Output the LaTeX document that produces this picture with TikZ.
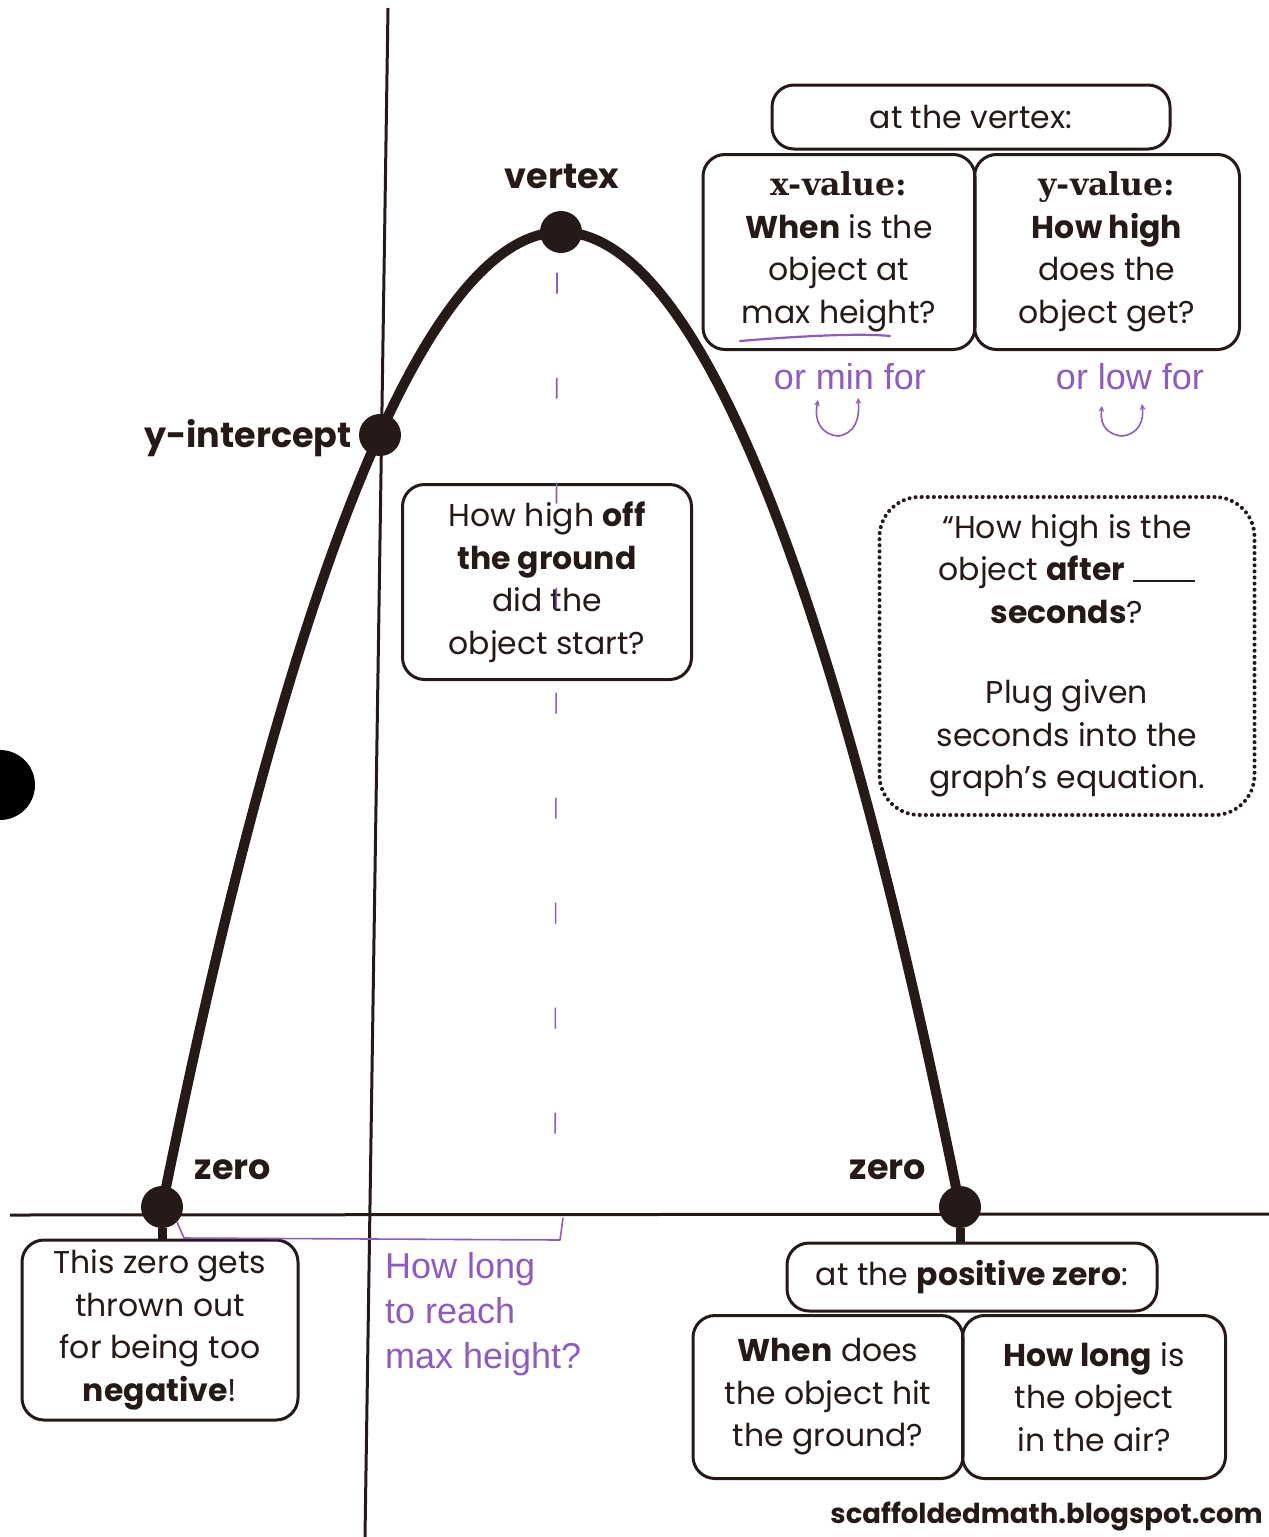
\documentclass[tikz,border=0pt]{standalone}
\usepackage{fontspec}
\setmainfont{Poppins}
\newfontfamily\slab{DejaVu Serif}
\newfontfamily\hand{Liberation Sans}
\definecolor{ink}{RGB}{38,26,24}
\definecolor{pen}{RGB}{140,92,196}
\begin{document}
\begin{tikzpicture}[x=1pt,y=-1pt,
  box/.style={draw=ink, line width=3pt, rounded corners=22pt, align=center,
    font=\fontsize{31.5}{42.5}\selectfont, inner sep=0pt, text=ink},
  dotbox/.style={box, line width=4pt, rounded corners=40pt, dash pattern=on 0.1pt off 6pt, line cap=round},
  pt/.style={circle, fill=ink, inner sep=0pt, minimum size=42pt},
  lbl/.style={font=\fontsize{35}{40}\selectfont\bfseries, text=ink, inner sep=0pt},
  handtxt/.style={font=\hand\fontsize{36}{45}\selectfont, text=pen, inner sep=0pt, align=left},
  axis/.style={draw=ink, line width=3pt},
  curve/.style={draw=ink, line width=10pt, line cap=round},
  stub/.style={draw=ink, line width=9pt},
  penline/.style={draw=pen, line width=1.6pt, line cap=round, line join=round}
]
\useasboundingbox (0,0) rectangle (1269,1537);
% hole punch
\fill[black] (0,785) circle (35);
% axes
\coordinate (ytop) at (388,8);
\coordinate (ybot) at (365,1537);
\coordinate (xl) at (10,1215);
\coordinate (xr) at (1269,1214);
\draw[axis] (ytop) -- (ybot);
\draw[axis] (xl) -- (xr);
% parabola
\coordinate (zl) at (162,1207);
\coordinate (vx) at (561,232);
\coordinate (zr) at (960,1207);
\draw[curve] (zl) parabola bend (vx) (zr);
% points
\node[pt] (V) at (vx) {};
\node[pt] (Y) at (380,435) {};
\node[pt] (ZL) at (zl) {};
\node[pt] (ZR) at (zr) {};
% labels
\node[lbl] (vlab) at (562,176) {vertex};
\node[lbl, anchor=east] (ylab) at (352,438) {y-intercept};
\node[lbl] (zllab) at (233,1170) {zero};
\node[lbl] (zrlab) at (888,1170) {zero};
% vertex boxes
\node[box, minimum width=265pt, minimum height=195pt] (yval) at (1107,252)
  {{\slab\bfseries y-value:}\\ \textbf{How high}\\ does the\\ object get?};
\node[box, minimum width=272pt, minimum height=195pt] (xval) at (839,252)
  {{\slab\bfseries x-value:}\\ \textbf{When} is the\\ object at\\ max height?};
\node[box, fill=white, minimum width=398pt, minimum height=64pt] (vtop) at (971,117)
  {at the vertex:};
% middle box
\node[box, minimum width=289pt, minimum height=195pt] (mid) at (547,582)
  {How high \textbf{off}\\ \textbf{the ground}\\ did the\\ object start?};
% dotted box
\node[dotbox, minimum width=375pt, minimum height=318pt] (plug) at (1067,656)
  {“How high is the\\ object \textbf{after} \rule[-1pt]{62pt}{1.5pt}\\ \textbf{seconds}?\\[38pt] Plug given\\ seconds into the\\ graph’s equation.};
% negative zero box
\node[box, minimum width=276pt, minimum height=180pt] (neg) at (160,1330)
  {This zero gets\\ thrown out\\ for being too\\ \textbf{negative}!};
\draw[stub] (ZL) -- (neg.north -| ZL);
% positive zero boxes
\node[box, minimum width=270pt, minimum height=163pt] (when) at (828,1397)
  {\textbf{When} does\\ the object hit\\ the ground?};
\node[box, minimum width=263pt, minimum height=163pt] (long) at (1094,1397)
  {\textbf{How long} is\\ the object\\ in the air?};
\node[box, fill=white, minimum width=370pt, minimum height=68pt] (ptop) at (972,1277)
  {at the \textbf{positive zero}:};
\draw[stub] (ZR) -- (ptop.north -| ZR);
% website
\node[lbl, font=\fontsize{27.5}{30}\selectfont\bfseries, anchor=east] (web) at (1263,1516) {scaffoldedmath.blogspot.com};
% handwritten annotations
\draw[penline, line width=2.2pt] (740,341) .. controls (800,336) and (860,333) .. (890,336);
\node[handtxt] (ormin) at (850,377) {or min for};
\node[handtxt] (orlow) at (1130,377) {or low for};
\draw[penline, ->, >=stealth] (838,436) .. controls (820,434) and (814,420) .. (818,400);
\draw[penline, ->, >=stealth] (838,436) .. controls (854,434) and (860,420) .. (858,398);
\draw[penline, ->, >=stealth] (1122,436) .. controls (1104,434) and (1100,422) .. (1102,406);
\draw[penline, ->, >=stealth] (1122,436) .. controls (1138,434) and (1144,422) .. (1142,404);
\node[handtxt, anchor=north west] (howlong) at (385,1252) {How long\\ to reach\\ max height?};
% bracket and dashed guide from vertex
\coordinate (bl) at (184,1238);
\coordinate (br) at (560,1240);
\coordinate (bt) at (563,1218);
\draw[penline] (ZL.south east) -- (bl) -- (br) -- (bt);
\draw[penline, dash pattern=on 20pt off 85pt] (V.south) ++(-4,20) -- (555,1215);
\end{tikzpicture}
\end{document}
